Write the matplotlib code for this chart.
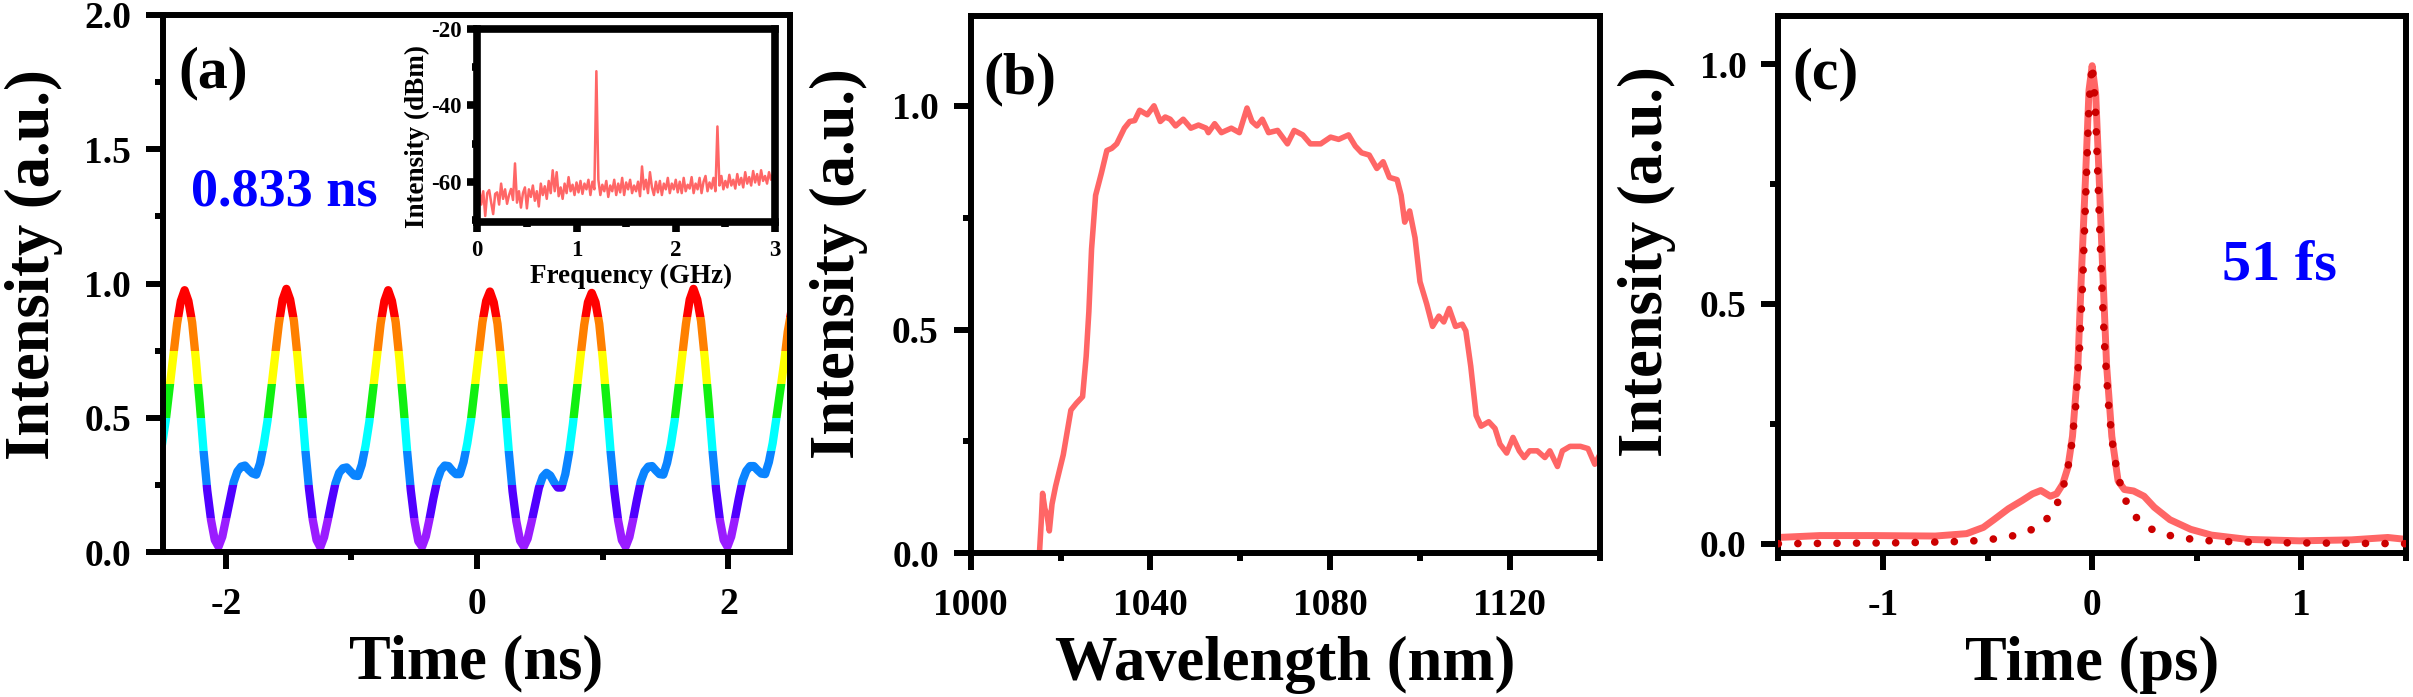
import numpy as np
import matplotlib
matplotlib.use('Agg')
import matplotlib.pyplot as plt
from matplotlib.patches import Rectangle
from matplotlib.ticker import MultipleLocator, FormatStrFormatter

plt.rcParams['font.family'] = 'Liberation Serif'
plt.rcParams['font.weight'] = 'bold'
plt.rcParams['axes.labelweight'] = 'bold'
plt.rcParams['axes.unicode_minus'] = False

# ---- (a) pulse train, sampled every 0.03 ns (one row per period) ----
wave_t = np.linspace(-2.508, 2.502, 168)
wave_y = [0.40, 0.49, 0.61, 0.73, 0.85, 0.935,
          0.975, 0.935, 0.855, 0.715, 0.555, 0.38, 0.23, 0.12, 0.045, 0.02, 0.057, 0.125, 0.195, 0.26,
          0.30, 0.318, 0.322, 0.306, 0.293, 0.288, 0.33, 0.40, 0.49, 0.61, 0.73, 0.85, 0.94,
          0.98, 0.94, 0.86, 0.72, 0.56, 0.385, 0.235, 0.12, 0.045, 0.018, 0.055, 0.12, 0.19, 0.255,
          0.295, 0.312, 0.315, 0.30, 0.285, 0.283, 0.325, 0.395, 0.485, 0.605, 0.725, 0.85, 0.935,
          0.975, 0.935, 0.855, 0.715, 0.555, 0.38, 0.23, 0.115, 0.04, 0.02, 0.058, 0.125, 0.20, 0.265,
          0.305, 0.322, 0.32, 0.303, 0.29, 0.29, 0.335, 0.405, 0.495, 0.615, 0.735, 0.855, 0.935,
          0.97, 0.93, 0.85, 0.71, 0.55, 0.375, 0.225, 0.115, 0.042, 0.02, 0.05, 0.11, 0.175, 0.24,
          0.28, 0.295, 0.285, 0.26, 0.24, 0.24, 0.29, 0.37, 0.475, 0.60, 0.725, 0.845, 0.93,
          0.965, 0.93, 0.85, 0.71, 0.55, 0.375, 0.228, 0.118, 0.044, 0.02, 0.056, 0.122, 0.195, 0.262,
          0.30, 0.318, 0.32, 0.304, 0.29, 0.288, 0.332, 0.40, 0.49, 0.61, 0.73, 0.85, 0.94,
          0.98, 0.94, 0.86, 0.72, 0.56, 0.385, 0.232, 0.12, 0.045, 0.02, 0.057, 0.124, 0.198, 0.265,
          0.302, 0.32, 0.32, 0.305, 0.292, 0.29, 0.335, 0.405, 0.50, 0.60, 0.70, 0.82, 0.90]

band_edges = [-1, 0.125, 0.25, 0.375, 0.5, 0.625, 0.75, 0.875, 2]
band_colors = ['#9A1CFF', '#5000FF', '#0A84FF', '#00FFFF', '#10F010', '#FFFF00', '#FF8000', '#FF0000']

# inset: RF spectrum
rf_f = np.linspace(0, 3, 151)
rf_db = [-64.5, -61.8, -66.0, -62.5, -69.0, -63.0, -62.2, -65.5, -68.5, -63.2,
         -62.8, -66.0, -60.5, -64.5, -62.0, -65.8, -63.5, -61.9, -64.8, -55.2,
         -65.5, -62.5, -66.8, -63.0, -61.5, -67.0, -62.0, -64.0, -61.0, -65.0,
         -62.5, -66.5, -60.5, -63.5, -61.2, -64.5, -59.8, -63.0, -57.0, -62.5,
         -57.5, -63.8, -61.5, -64.5, -60.5, -63.0, -58.8, -62.5, -60.8, -63.5,
         -60.2, -62.8, -59.8, -63.2, -60.5, -62.0, -59.5, -63.5, -60.0, -62.0,
         -31.0,
         -59.5, -63.5, -60.8, -62.5, -59.8, -64.0, -61.0, -62.5, -59.5,
         -63.5, -60.5, -62.8, -59.0, -63.5, -60.2, -62.0, -59.5, -63.0, -61.0,
         -62.5, -60.0, -63.8, -56.0, -62.0, -59.5, -63.0, -57.5, -61.5, -63.5,
         -60.0, -62.8, -59.8, -63.5, -60.5, -62.0, -59.0, -63.0, -60.5, -62.0,
         -59.5, -62.8, -60.0, -63.0, -59.0, -62.5, -60.8, -61.8, -58.8, -63.0,
         -60.5, -62.0, -59.0, -63.0, -60.0, -58.5, -62.5, -60.2, -61.8, -59.0,
         -62.5, -45.5, -61.0, -58.5, -62.0, -59.8, -61.5, -58.2, -61.0, -59.5,
         -61.8, -58.0, -60.8, -59.0, -61.5, -57.5, -60.5, -58.8, -61.0, -57.2,
         -60.2, -58.0, -60.8, -57.0, -59.8, -58.5, -60.5, -57.5, -59.5, -58.0, -59.0]

# ---- (b) spectrum ----
wl = [1015.3, 1015.7, 1016.0, 1016.5, 1017.0, 1017.5, 1018.1, 1018.9, 1020.6, 1022.3,
      1023.5, 1024.9, 1025.7, 1026.3, 1026.9, 1027.8, 1029.1, 1030.3, 1031.4, 1032.5,
      1034.2, 1035.4, 1036.5, 1037.6, 1039.3, 1040.8, 1042.2, 1043.3, 1044.4, 1045.6,
      1047.3, 1049.0, 1050.7, 1052.4, 1052.9, 1054.3, 1055.8, 1058.0, 1059.8, 1061.5,
      1062.6, 1063.7, 1064.9, 1066.3, 1068.3, 1070.5, 1072.0, 1073.9, 1075.6, 1077.9,
      1080.1, 1081.9, 1084.1, 1085.6, 1087.0, 1088.7, 1090.4, 1091.8, 1093.2, 1094.9,
      1095.8, 1096.6, 1097.7, 1098.9, 1100.0, 1101.5, 1102.8, 1104.2, 1105.3, 1106.5,
      1107.9, 1109.4, 1110.2, 1111.3, 1112.5, 1113.6, 1115.3, 1116.7, 1117.8, 1119.3,
      1120.7, 1122.1, 1123.2, 1124.4, 1126.1, 1127.8, 1128.9, 1130.6, 1131.7, 1133.4,
      1135.7, 1137.4, 1138.9, 1140.0]
spec = [0.0, 0.07, 0.134, 0.10, 0.085, 0.05, 0.11, 0.15, 0.22, 0.32,
        0.335, 0.35, 0.44, 0.54, 0.68, 0.80, 0.85, 0.90, 0.905, 0.915,
        0.95, 0.965, 0.967, 0.99, 0.98, 1.0, 0.965, 0.975, 0.97, 0.955,
        0.97, 0.95, 0.957, 0.95, 0.94, 0.96, 0.94, 0.95, 0.94, 0.995,
        0.965, 0.955, 0.97, 0.94, 0.945, 0.915, 0.945, 0.935, 0.915, 0.915,
        0.93, 0.925, 0.935, 0.91, 0.895, 0.89, 0.86, 0.875, 0.84, 0.835,
        0.80, 0.74, 0.765, 0.705, 0.607, 0.557, 0.507, 0.53, 0.517, 0.547,
        0.507, 0.512, 0.497, 0.418, 0.308, 0.284, 0.294, 0.279, 0.244, 0.224,
        0.259, 0.229, 0.214, 0.229, 0.229, 0.214, 0.229, 0.194, 0.229, 0.239,
        0.239, 0.234, 0.199, 0.22]

# ---- (c) autocorrelation and fit ----
ac_t = [-1.5, -1.3, -1.05, -0.75, -0.6, -0.52, -0.47, -0.40, -0.335, -0.285,
        -0.245, -0.2, -0.17, -0.141, -0.116, -0.094, -0.069, -0.05, -0.032, -0.015,
        0.0, 0.017, 0.032, 0.05, 0.069, 0.094, 0.124, 0.154, 0.198, 0.248,
        0.297, 0.372, 0.471, 0.57, 0.743, 0.991, 1.239, 1.413, 1.5]
ac_y = [0.013, 0.017, 0.017, 0.016, 0.021, 0.034, 0.05, 0.073, 0.09, 0.104,
        0.111, 0.099, 0.104, 0.124, 0.159, 0.224, 0.363, 0.576, 0.761, 0.946,
        0.997, 0.937, 0.78, 0.576, 0.372, 0.224, 0.131, 0.113, 0.11, 0.099,
        0.076, 0.05, 0.03, 0.018, 0.009, 0.006, 0.008, 0.013, 0.009]
fit_t = [-1.5, -1.2, -0.9, -0.7, -0.6, -0.5, -0.42, -0.35, -0.28, -0.22,
         -0.18, -0.15, -0.12, -0.10, -0.08, -0.06, -0.045, -0.03, -0.015, 0.0,
         0.015, 0.03, 0.045, 0.06, 0.08, 0.10, 0.12, 0.15, 0.18, 0.22,
         0.28, 0.35, 0.42, 0.5, 0.6, 0.7, 0.9, 1.2, 1.5]
fit_y = [0.0, 0.001, 0.002, 0.004, 0.005, 0.008, 0.013, 0.019, 0.031, 0.05,
         0.072, 0.10, 0.148, 0.20, 0.28, 0.41, 0.55, 0.735, 0.917, 1.0,
         0.917, 0.735, 0.55, 0.41, 0.28, 0.20, 0.148, 0.10, 0.072, 0.05,
         0.031, 0.019, 0.013, 0.008, 0.005, 0.004, 0.002, 0.001, 0.0]

line_red = '#FF6666'
dot_red = '#CC0000'


def style_axes(ax, lw=4.3, major=12, minor=6, size=27, xpad=13, ypad=11):
    for s in ax.spines.values():
        s.set_linewidth(lw)
    ax.tick_params(which='both', direction='out', top=False, right=False, width=lw)
    ax.tick_params(which='major', length=major, labelsize=size)
    ax.tick_params(which='minor', length=minor)
    ax.tick_params(axis='x', which='major', pad=xpad)
    ax.tick_params(axis='y', which='major', pad=ypad)


def set_labels(ax, xl, yl, xpos, ypos, size=45):
    ax.set_xlabel(xl, fontsize=size)
    ax.set_ylabel(yl, fontsize=size)
    ax.xaxis.set_label_coords(*xpos)
    ax.yaxis.set_label_coords(*ypos)
    ax.xaxis.label.set_va('baseline')
    ax.yaxis.label.set_va('baseline')


fig = plt.figure(figsize=(24.13, 6.97), dpi=100)

# panel (a)
ax1 = fig.add_axes([0.06755, 0.20803, 0.25984, 0.77045])
for lo, hi, c in zip(band_edges[:-1], band_edges[1:], band_colors):
    ln, = ax1.plot(wave_t, wave_y, color=c, lw=6, solid_capstyle='round', solid_joinstyle='round')
    ln.set_clip_path(Rectangle((-2.5, max(lo, 0)), 4.99, min(hi, 2.0) - max(lo, 0), transform=ax1.transData))
ax1.set_xlim(-2.5, 2.49)
ax1.set_ylim(0, 2.0)
ax1.xaxis.set_major_locator(MultipleLocator(2))
ax1.xaxis.set_minor_locator(MultipleLocator(1))
ax1.yaxis.set_major_locator(MultipleLocator(0.5))
ax1.yaxis.set_minor_locator(MultipleLocator(0.25))
ax1.yaxis.set_major_formatter(FormatStrFormatter('%.1f'))
style_axes(ax1)
set_labels(ax1, 'Time (ns)', 'Intensity (a.u.)', (0.5, -0.2346), (-0.1823, 0.536))
ax1.text(0.024, 0.866, '(a)', transform=ax1.transAxes, fontsize=43, va='baseline')
ax1.text(-2.278, 1.292, '0.833 ns', color='#0000FF', fontsize=39, va='baseline')

# inset
axin = fig.add_axes([0.1978, 0.68192, 0.12337, 0.27604])
axin.plot(rf_f, rf_db, color=line_red, lw=1.8)
axin.set_xlim(0, 3)
axin.set_ylim(-70.5, -20)
axin.xaxis.set_major_locator(MultipleLocator(1))
axin.xaxis.set_minor_locator(MultipleLocator(0.5))
axin.yaxis.set_major_locator(MultipleLocator(20))
axin.yaxis.set_minor_locator(MultipleLocator(10))
style_axes(axin, lw=5.5, major=7.2, minor=3.6, size=16.5, xpad=6, ypad=4)
set_labels(axin, 'Frequency (GHz)', 'Intensity (dBm)', (0.517, -0.319), (-0.178, 0.445), size=19.5)

# panel (b)
ax2 = fig.add_axes([0.40228, 0.20617, 0.26067, 0.77044])
ax2.plot(wl, spec, color=line_red, lw=4, solid_joinstyle='round')
ax2.set_xlim(1000, 1140)
ax2.set_ylim(0, 1.2)
ax2.xaxis.set_major_locator(MultipleLocator(40))
ax2.xaxis.set_minor_locator(MultipleLocator(20))
ax2.yaxis.set_major_locator(MultipleLocator(0.5))
ax2.yaxis.set_minor_locator(MultipleLocator(0.25))
ax2.yaxis.set_major_formatter(FormatStrFormatter('%.1f'))
style_axes(ax2)
set_labels(ax2, 'Wavelength (nm)', 'Intensity (a.u.)', (0.5, -0.236), (-0.1862, 0.539))
ax2.text(0.0207, 0.856, '(b)', transform=ax2.transAxes, fontsize=43, va='baseline')

# panel (c)
ax3 = fig.add_axes([0.73697, 0.20617, 0.26013, 0.77044])
ax3.plot(ac_t, ac_y, color=line_red, lw=5, solid_joinstyle='round')
ax3.plot(fit_t, fit_y, color=dot_red, lw=5.5, linestyle=(0, (0.01, 2.55)),
         dash_capstyle='round', zorder=3)
ax3.set_xlim(-1.5, 1.5)
ax3.set_ylim(-0.02, 1.1)
ax3.xaxis.set_major_locator(MultipleLocator(1))
ax3.xaxis.set_minor_locator(MultipleLocator(0.5))
ax3.yaxis.set_major_locator(MultipleLocator(0.5))
ax3.yaxis.set_minor_locator(MultipleLocator(0.25))
ax3.yaxis.set_major_formatter(FormatStrFormatter('%.1f'))
style_axes(ax3)
set_labels(ax3, 'Time (ps)', 'Intensity (a.u.)', (0.5, -0.236), (-0.1845, 0.5425))
ax3.text(0.023, 0.865, '(c)', transform=ax3.transAxes, fontsize=43, va='baseline')
ax3.text(0.622, 0.551, '51 fs', color='#0000FF', fontsize=42, va='baseline')

fig.savefig('out.png', dpi=100)
